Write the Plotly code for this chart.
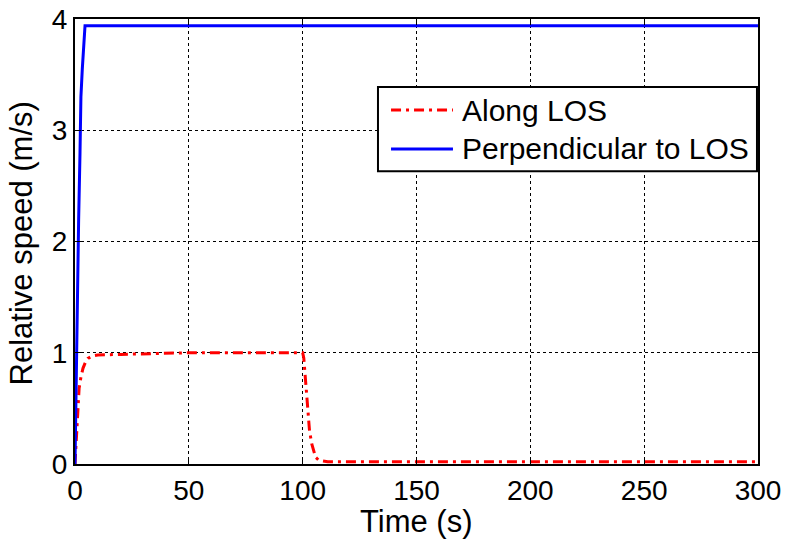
import plotly.graph_objects as go

# Data
t_along = [0, 0.3, 0.6, 0.9, 1.3, 1.8, 2.6, 3.5, 4.5, 5.7, 7.5, 10, 20, 30, 40, 50, 70, 90, 100,
           100.5, 101, 101.8, 102.5, 103, 104, 105, 105.7, 107, 109, 111, 120, 150, 200, 250, 300]
v_along = [0, 0.12, 0.3, 0.45, 0.57, 0.68, 0.78, 0.86, 0.91, 0.95, 0.97, 0.98, 0.985, 0.99, 0.995, 1.0, 1.0, 1.0, 1.0,
           0.95, 0.82, 0.6, 0.42, 0.3, 0.18, 0.1, 0.06, 0.035, 0.025, 0.02, 0.02, 0.02, 0.02, 0.02, 0.02]

t_perp = [0, 0.3, 0.7, 1.2, 1.6, 2.2, 2.6, 3.2, 3.8, 4.4, 10, 50, 100, 150, 200, 250, 300]
v_perp = [0, 0.5, 1.2, 1.9, 2.2, 2.8, 3.3, 3.55, 3.8, 3.94, 3.94, 3.94, 3.94, 3.94, 3.94, 3.94, 3.94]

x_ticks = [0, 50, 100, 150, 200, 250, 300]
y_ticks = [0, 1, 2, 3, 4]

series_names = ["Along LOS", "Perpendicular to LOS"]
x_title = "Time (s)"
y_title = "Relative speed (m/s)"
FONT = "Liberation Sans, Arial, sans-serif"
RED_DASH = "10px,5px,3px,5px"

fig = go.Figure()
fig.add_trace(go.Scatter(x=t_along, y=v_along, mode="lines", name=series_names[0],
                         line=dict(color="#ff0000", width=3, dash=RED_DASH), showlegend=False))
fig.add_trace(go.Scatter(x=t_perp, y=v_perp, mode="lines", name=series_names[1],
                         line=dict(color="#0000ff", width=3), showlegend=False))

axis_common = dict(
    showline=True, linecolor="black", linewidth=2, mirror="ticks",
    ticks="inside", ticklen=6, tickcolor="black", tickwidth=1,
    showgrid=True, gridcolor="black", griddash="dot", gridwidth=1,
    zeroline=False, automargin=False, ticklabeloverflow="allow",
    tickfont=dict(family=FONT, size=28, color="black"),
)
fig.update_xaxes(range=[0, 300], tickvals=x_ticks, **axis_common)
fig.update_yaxes(range=[0, 4], tickvals=y_ticks, **axis_common)

# Axis titles
fig.add_annotation(xref="paper", yref="paper", x=0.5, y=-0.13, text=x_title, showarrow=False,
                   xanchor="center", yanchor="middle",
                   font=dict(family=FONT, size=31, color="black"))
fig.add_annotation(xref="paper", yref="paper", x=-0.078, y=0.495, text=y_title, showarrow=False,
                   textangle=-90, xanchor="center", yanchor="middle",
                   font=dict(family=FONT, size=31, color="black"))

# Manual legend (MATLAB-style)
lx0, lx1 = 0.4436, 0.9985
ly0, ly1 = 0.658, 0.847
fig.add_shape(type="rect", xref="paper", yref="paper", x0=lx0, x1=lx1, y0=ly0, y1=ly1,
              line=dict(color="black", width=2), fillcolor="white", layer="above")
rows = [0.7955, 0.708]
styles = [dict(color="#ff0000", width=3, dash=RED_DASH), dict(color="#0000ff", width=3)]
for name, yy, st in zip(series_names, rows, styles):
    fig.add_shape(type="line", xref="paper", yref="paper", x0=0.4627, x1=0.5534, y0=yy, y1=yy,
                  line=st, layer="above")
    fig.add_annotation(xref="paper", yref="paper", x=0.563, y=yy, text=name, showarrow=False,
                       xanchor="left", yanchor="middle",
                       font=dict(family=FONT, size=30, color="black"))

fig.update_layout(
    width=787, height=547,
    margin=dict(l=75, r=29, t=19, b=83),
    paper_bgcolor="white", plot_bgcolor="white",
    showlegend=False,
)

# Remove the browser's default 8px body margin so the figure fills the window exactly.
fig.write_html("out.html", config={"displayModeBar": False},
               post_script="document.body.style.margin='0';")
